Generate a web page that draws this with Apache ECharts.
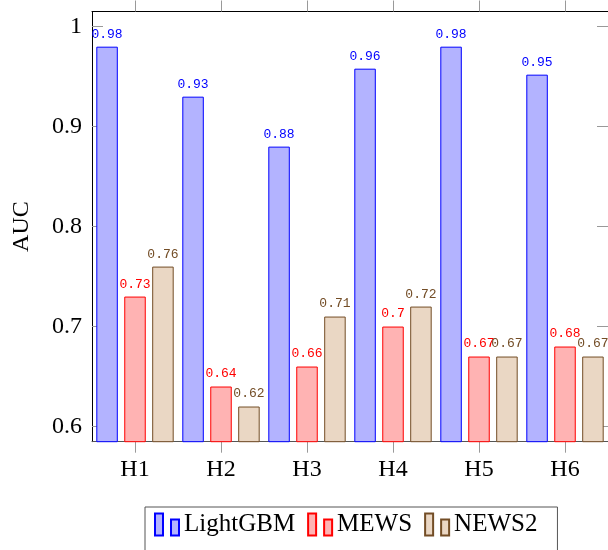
<!DOCTYPE html>
<html>
<head>
<meta charset="utf-8">
<script src="https://cdn.jsdelivr.net/npm/echarts@6/dist/echarts.min.js"></script>
<style>
html,body{margin:0;padding:0;background:#fff;}
#chart{width:608px;height:550px;}
</style>
</head>
<body>
<div id="chart"></div>
<script>
var categories = ['H1', 'H2', 'H3', 'H4', 'H5', 'H6'];
var lightgbm = [0.98, 0.93, 0.88, 0.958, 0.98, 0.952];
var mews = [0.73, 0.64, 0.66, 0.70, 0.67, 0.68];
var news2 = [0.76, 0.62, 0.71, 0.72, 0.67, 0.67];
var yTicks = [0.6, 0.7, 0.8, 0.9, 1];

var SERIF = '"Liberation Serif", "DejaVu Serif", serif';
var MONO = '"Liberation Mono", "DejaVu Sans Mono", monospace';

function fmt(v) { return String(Number(v.toFixed(2))); }

function barSeries(name, data, fill, stroke) {
  return {
    name: name,
    type: 'bar',
    data: data,
    barWidth: 21.5,
    barGap: '30%',
    itemStyle: { color: fill, borderColor: stroke, borderWidth: 1 },
    label: {
      show: true,
      position: 'top',
      distance: 6,
      color: stroke,
      fontFamily: MONO,
      fontSize: 13,
      formatter: function (p) { return fmt(p.value); }
    },
    emphasis: { disabled: true }
  };
}

var chart = echarts.init(document.getElementById('chart'), null, { renderer: 'canvas' });
chart.setOption({
  animation: false,
  grid: { left: 92, top: 11.5, right: -2, bottom: 108.3, containLabel: false },
  legend: {
    left: 145,
    top: 507,
    orient: 'horizontal',
    padding: [5, 20, 20, 9],
    borderColor: '#555',
    borderWidth: 1,
    itemWidth: 24,
    itemHeight: 22,
    itemGap: 12,
    icon: 'path://M0,0H8V22H0Z M16,6H24V22H16Z',
    textStyle: { fontFamily: SERIF, fontSize: 25, color: '#000' },
    data: ['LightGBM', 'MEWS', 'NEWS2']
  },
  xAxis: [
    {
      type: 'category',
      data: categories,
      position: 'bottom',
      axisLine: { show: true, lineStyle: { color: '#555', width: 1 } },
      axisTick: { show: true, alignWithLabel: true, inside: false, length: 11, lineStyle: { color: '#999', width: 1 } },
      axisLabel: { fontFamily: SERIF, fontSize: 24, color: '#000', margin: 16 },
      splitLine: { show: false }
    },
    {
      type: 'category',
      data: categories,
      position: 'top',
      axisLine: { show: true, lineStyle: { color: '#000', width: 1 } },
      axisTick: { show: true, alignWithLabel: true, inside: false, length: 11, lineStyle: { color: '#999', width: 1 } },
      axisLabel: { show: false },
      splitLine: { show: false }
    }
  ],
  yAxis: [
    {
      type: 'value',
      position: 'left',
      min: 0.5848,
      max: 1.0152,
      name: 'AUC',
      nameLocation: 'middle',
      nameGap: 58,
      nameRotate: 90,
      nameTextStyle: { fontFamily: SERIF, fontSize: 24, color: '#000' },
      axisLine: { show: true, lineStyle: { color: '#000', width: 1 } },
      axisTick: { show: true, inside: true, length: 11, customValues: yTicks, lineStyle: { color: '#999', width: 1 } },
      axisLabel: { show: true, customValues: yTicks, fontFamily: SERIF, fontSize: 24, color: '#000', margin: 10,
        formatter: function (v) { return fmt(v); } },
      splitLine: { show: false }
    },
    {
      type: 'value',
      position: 'right',
      min: 0.5848,
      max: 1.0152,
      axisLine: { show: true, lineStyle: { color: '#000', width: 1 } },
      axisTick: { show: true, inside: true, length: 11, customValues: yTicks, lineStyle: { color: '#999', width: 1 } },
      axisLabel: { show: false },
      splitLine: { show: false }
    }
  ],
  series: [
    barSeries('LightGBM', lightgbm, '#b3b3ff', '#0000ff'),
    barSeries('MEWS', mews, '#ffb3b3', '#ff0000'),
    barSeries('NEWS2', news2, '#ead7c4', '#734d26')
  ]
});
</script>
</body>
</html>
